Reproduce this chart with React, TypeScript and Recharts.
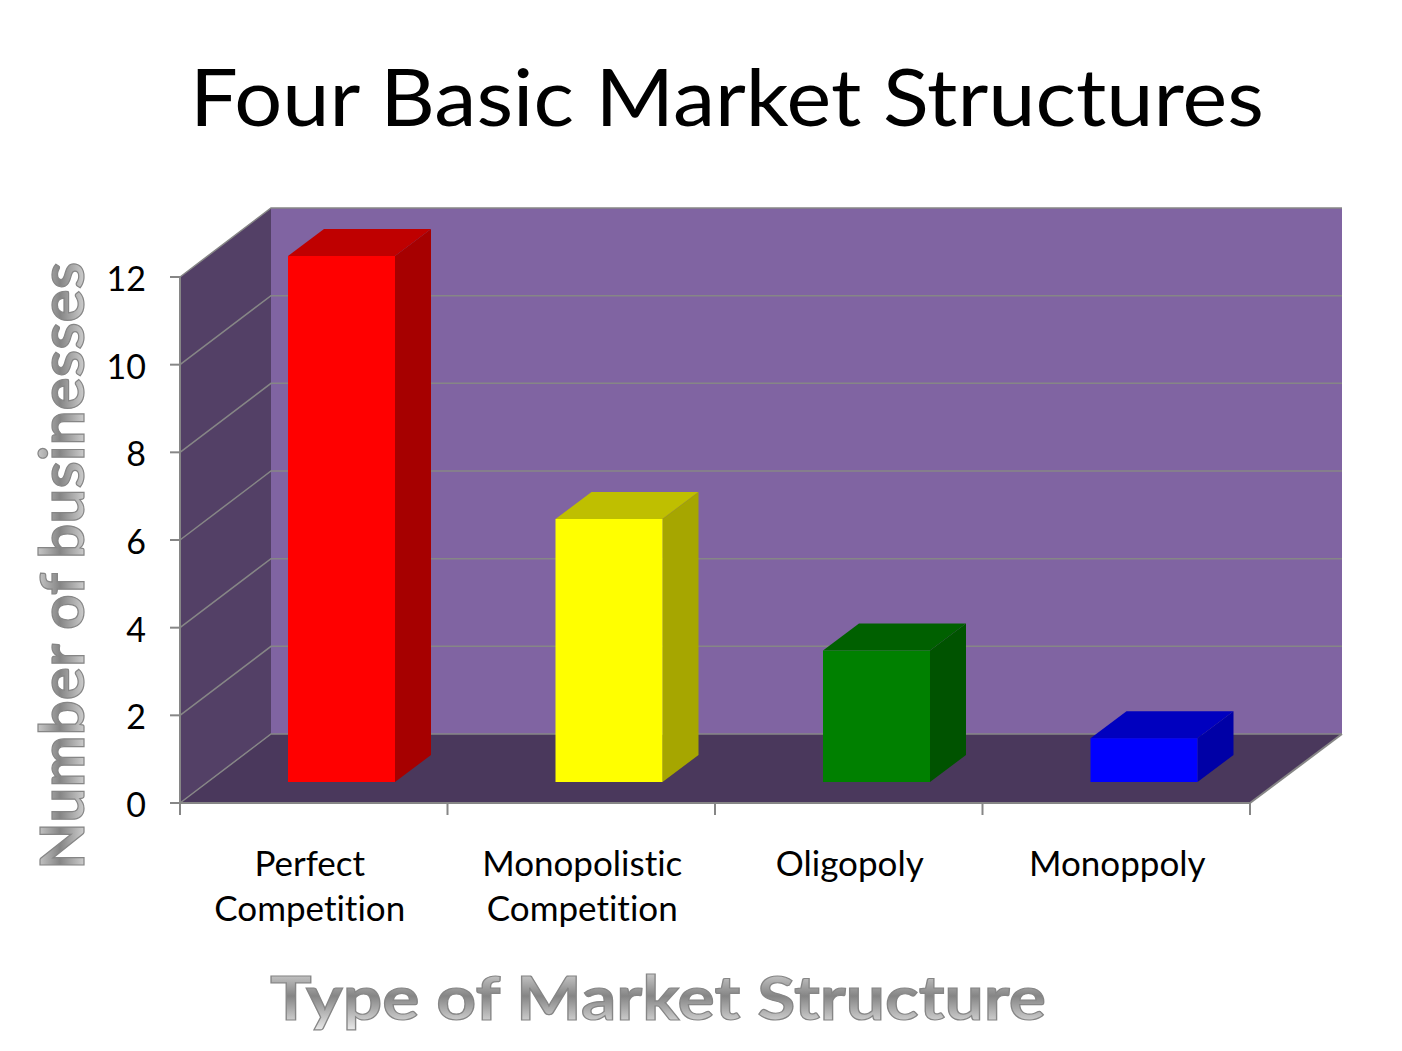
import { Bar, BarChart, CartesianGrid, Cell, XAxis, YAxis, usePlotArea } from "recharts";

const categories = ["Perfect Competition", "Monopolistic Competition", "Oligopoly", "Monoppoly"];
const businesses = [12, 6, 3, 1];
const yTicks = [0, 2, 4, 6, 8, 10, 12];
const barColors = ["#ff0000", "#ffff00", "#008000", "#0000ff"];
const topColors = ["#bf0000", "#bfbf00", "#006000", "#0000bf"];
const sideColors = ["#a60000", "#a6a600", "#005300", "#0000a6"];

const data = categories.map((name, i) => ({ name, businesses: businesses[i] }));

const FONT = "Lato, sans-serif";
const AXIS = "#868686";
// depth of the fake 3d box
const WALL_DX = 91;
const WALL_DY = 69;
const CAT_WIDTH = 267.5;

function Walls() {
  const plot = usePlotArea();
  if (!plot) return null;
  const l = plot.x;
  const r = plot.x + plot.width;
  const t = plot.y;
  const b = plot.y + plot.height;
  return (
    <g>
      <polygon
        points={`${l + WALL_DX},${t - WALL_DY} ${r + WALL_DX + 1},${t - WALL_DY} ${r + WALL_DX + 1},${b - WALL_DY} ${l + WALL_DX},${b - WALL_DY}`}
        fill="#8064a2"
      />
      <polygon
        points={`${l},${t} ${l + WALL_DX},${t - WALL_DY} ${l + WALL_DX},${b - WALL_DY} ${l},${b}`}
        fill="#534066"
      />
      <polygon
        points={`${l},${b} ${l + WALL_DX},${b - WALL_DY} ${r + WALL_DX + 1},${b - WALL_DY} ${r},${b}`}
        fill="#4a385c"
      />
      <line x1={r} y1={b} x2={r + WALL_DX + 1} y2={b - WALL_DY} stroke={AXIS} strokeWidth={2} />
    </g>
  );
}

function gridLine(props: any) {
  const { x1, x2, y1, key } = props;
  return (
    <polyline
      key={key}
      points={`${x1},${y1} ${x1 + WALL_DX},${y1 - WALL_DY} ${x2 + WALL_DX + 1},${y1 - WALL_DY}`}
      fill="none"
      stroke={AXIS}
      strokeWidth={1.5}
    />
  );
}

function Box(props: any) {
  const { x, y, width, height, index } = props;
  const dx = 36;
  const dy = 27;
  const left = x + 28;
  const top = y - 21;
  const right = left + width;
  const bottom = top + height;
  return (
    <g>
      <polygon
        points={`${left},${top} ${left + dx},${top - dy} ${right + dx},${top - dy} ${right},${top}`}
        fill={topColors[index]}
      />
      <polygon
        points={`${right},${top} ${right + dx},${top - dy} ${right + dx},${bottom - dy} ${right},${bottom}`}
        fill={sideColors[index]}
      />
      <rect x={left} y={top} width={width} height={height} fill={barColors[index]} />
    </g>
  );
}

function CategoryTick(props: any) {
  const { x, y, payload, index } = props;
  const words = String(payload.value).split(" ");
  const axisY = y - 8;
  const labelX = x + (index === 0 ? -4 : 1);
  return (
    <g>
      <line x1={x - CAT_WIDTH / 2} y1={axisY} x2={x - CAT_WIDTH / 2} y2={axisY + 12} stroke={AXIS} strokeWidth={2} />
      {index === categories.length - 1 && (
        <line x1={x + CAT_WIDTH / 2} y1={axisY} x2={x + CAT_WIDTH / 2} y2={axisY + 12} stroke={AXIS} strokeWidth={2} />
      )}
      <text
        x={labelX}
        y={axisY + 73}
        textAnchor="middle"
        fontFamily={FONT}
        fontSize={35}
        fill="#000"
        style={{ fontVariantLigatures: "none" }}
      >
        {words.map((w, i) => (
          <tspan key={w} x={labelX} dy={i === 0 ? 0 : 45}>
            {w}
          </tspan>
        ))}
      </text>
    </g>
  );
}

export default function App() {
  return (
    <div style={{ width: 1402, height: 1051, position: "absolute", left: 0, top: 0, background: "#fff" }}>
      <BarChart
        width={1402}
        height={1051}
        data={data}
        margin={{ top: 277, right: 152, bottom: 188, left: 100 }}
        barSize={107}
      >
        <defs>
          <linearGradient id="chrome" x1="0" y1="0" x2="0" y2="1">
            <stop offset="0%" stopColor="#f2f2f2" />
            <stop offset="50%" stopColor="#858585" />
            <stop offset="100%" stopColor="#f2f2f2" />
          </linearGradient>
        </defs>
        <Walls />
        <CartesianGrid vertical={false} horizontal={gridLine} zIndex={100} />
        <XAxis
          dataKey="name"
          interval={0}
          height={60}
          tick={CategoryTick}
          tickLine={false}
          axisLine={{ stroke: AXIS, strokeWidth: 2 }}
        />
        <YAxis
          width={80}
          domain={[0, 12]}
          ticks={yTicks}
          tick={{ fontFamily: FONT, fontSize: 34, fill: "#000", dy: 2 }}
          tickSize={10}
          tickLine={{ stroke: AXIS, strokeWidth: 2 }}
          axisLine={{ stroke: AXIS, strokeWidth: 2 }}
          tickMargin={24}
        />
        <Bar dataKey="businesses" shape={Box} isAnimationActive={false}>
          {data.map((d) => (
            <Cell key={d.name} />
          ))}
        </Bar>
        <text
          x={727}
          y={126}
          textAnchor="middle"
          fontFamily={FONT}
          fontSize={80}
          fill="#000"
          textLength={1074}
          lengthAdjust="spacingAndGlyphs"
        >
          Four Basic Market Structures
        </text>
        <text
          x={658}
          y={1020}
          textAnchor="middle"
          fontFamily={FONT}
          fontWeight={700}
          fontSize={62}
          fill="url(#chrome)"
          stroke={AXIS}
          strokeWidth={1.2}
          textLength={776}
          lengthAdjust="spacingAndGlyphs"
        >
          Type of Market Structure
        </text>
        <text
          transform="translate(84,566) rotate(-90)"
          textAnchor="middle"
          fontFamily={FONT}
          fontWeight={700}
          fontSize={62}
          fill="url(#chrome)"
          stroke={AXIS}
          strokeWidth={1.2}
          textLength={608}
          lengthAdjust="spacingAndGlyphs"
        >
          Number of businesses
        </text>
      </BarChart>
    </div>
  );
}
